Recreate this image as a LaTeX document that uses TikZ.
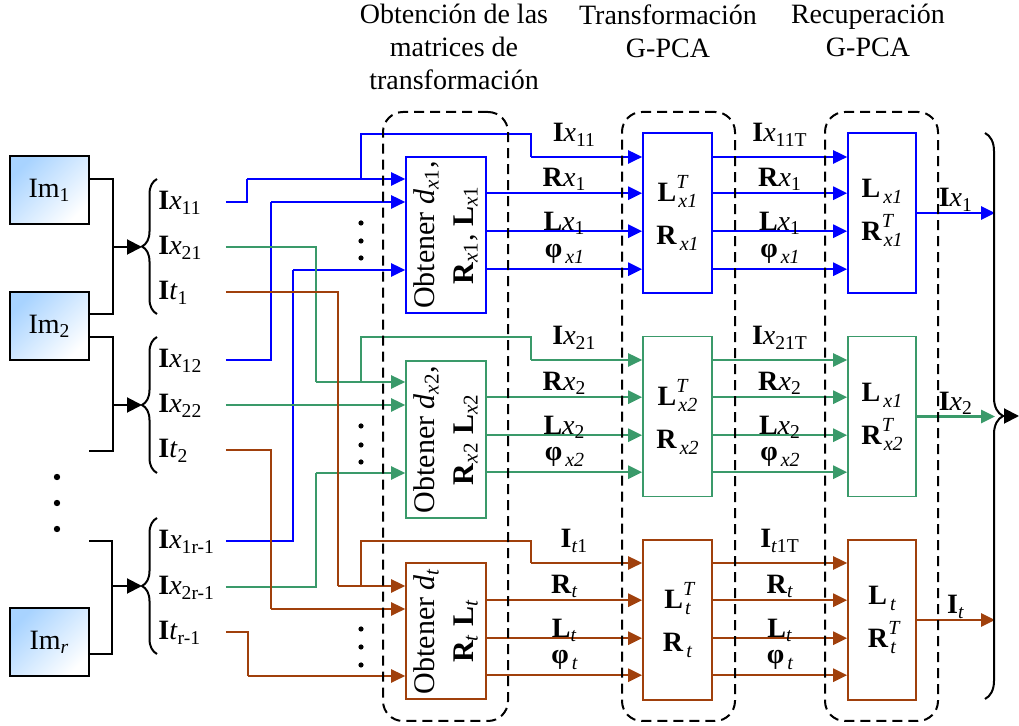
\documentclass[tikz,border=0pt]{standalone}
\usepackage{fontspec}
\setmainfont{Liberation Serif}
\usetikzlibrary{arrows.meta,calc,decorations.pathreplacing}
\definecolor{PcaBlue}{HTML}{0000FF}
\definecolor{PcaGreen}{HTML}{3A9A6A}
\definecolor{PcaBrown}{HTML}{A0400C}
\definecolor{PcaSky}{HTML}{A8D3FF}
\newcommand{\lsub}[1]{\textsubscript{#1}}
\newcommand{\scrsz}{\fontsize{10}{10}\selectfont}
\newcommand{\stk}[2]{\rlap{\raisebox{6.5pt}{\scrsz\itshape #1}}\kern1pt\raisebox{-3pt}{\scrsz\itshape #2}}
\newcommand{\lowsub}[1]{\kern1.5pt\raisebox{-3pt}{\scrsz\itshape #1}}
\tikzset{
  imbox/.style={draw,line width=1pt,top color=PcaSky,bottom color=white,shading angle=45,
    minimum width=39.5pt,minimum height=34pt,inner sep=0pt},
  obtbox/.style={draw,line width=0.8pt,fill=white,minimum width=40pt,inner sep=0pt,
    font=\fontsize{15}{19.5}\selectfont},
  gbox/.style={draw,line width=0.8pt,fill=white,minimum width=34.5pt,minimum height=80pt,
    inner sep=0pt,align=center},
  stage/.style={draw,line width=1pt,dash pattern=on 5pt off 3pt,rounded corners=10pt,
    minimum width=56.5pt,minimum height=304.5pt,inner sep=0pt},
  stagetitle/.style={anchor=north,align=center,inner sep=0pt},
  inlabel/.style={anchor=west,inner xsep=1pt,inner ysep=0pt,text width=32.5pt,align=left,
    text height=10pt,text depth=2pt},
  route/.style={line width=0.8pt},
  feed/.style={line width=1.3pt,-{Triangle[length=7pt,width=6.5pt]}},
  link/.style={line width=1pt},
  linkarr/.style={link,-{Triangle[length=7.5pt,width=7.5pt]}},
  curly/.style={decorate,line width=1pt,decoration={brace,amplitude=#1}},
  ilab/.style={anchor=base,inner sep=0pt,yshift=7.5pt},
  rlab/.style={anchor=base,inner sep=0pt,yshift=3.5pt},
  llab/.style={anchor=base,inner sep=0pt,yshift=0.5pt},
  plab/.style={anchor=base,inner sep=0pt,yshift=6pt},
  olab/.style={anchor=base,inner sep=0pt,yshift=3pt}
}
\begin{document}
\begin{tikzpicture}[x=0.5pt,y=-0.5pt,font=\fontsize{14}{16.5}\selectfont]
  \useasboundingbox (0,0) rectangle (1019,726);
  % stage titles
  \node[stagetitle] (tA) at (454,4) {Obtención de las\\matrices de\\transformación};
  \node[stagetitle] (tB) at (668,4) {Transformación\\G-PCA};
  \node[stagetitle] (tC) at (868,4) {Recuperación\\G-PCA};

  % input images
  \node[imbox] (imA) at (49.5,190.5) {Im\lsub{1}};
  \node[imbox] (imB) at (49.5,326.5) {Im\lsub{2}};
  \node[imbox] (imR) at (49.5,642.5) {Im\lsub{\itshape r}};
  \fill (57,477) circle[radius=1.6pt];
  \fill (57,503) circle[radius=1.6pt];
  \fill (57,529) circle[radius=1.6pt];

  \coordinate (armB) at (89,451);
  \coordinate (armR) at (89,541);
  \draw[link] ([yshift=5.75pt]imA.east) -- ++(23,0) coordinate (jA) |- ([yshift=6.25pt]imB.east);
  \draw[link] ([yshift=-5.25pt]imB.east) -- ++(23,0) coordinate (jB) |- (armB);
  \draw[link] (armR) -- ++(23,0) coordinate (jR) |- ([yshift=-5.75pt]imR.east);
  \coordinate (tipA) at (142,247);
  \coordinate (tipB) at (142,405);
  \coordinate (tipR) at (142,586);
  \draw[linkarr] (tipA -| jA) -- (tipA);
  \draw[linkarr] (tipB -| jB) -- (tipB);
  \draw[linkarr] (tipR -| jR) -- (tipR);
  \draw[curly=7.5pt] (157,314) -- (157,179);
  \draw[curly=7.5pt] (157,473) -- (157,337);
  \draw[curly=7.5pt] (157,654) -- (157,518);

  % split components
  \node[inlabel] (lx11) at (156,202) {\textbf{I}\textit{x}\lsub{11}};
  \node[inlabel] (lx21) at (156,247) {\textbf{I}\textit{x}\lsub{21}};
  \node[inlabel] (lt1)  at (156,292) {\textbf{I}\textit{t}\lsub{1}};
  \node[inlabel] (lx12) at (156,360) {\textbf{I}\textit{x}\lsub{12}};
  \node[inlabel] (lx22) at (156,405) {\textbf{I}\textit{x}\lsub{22}};
  \node[inlabel] (lt2)  at (156,450) {\textbf{I}\textit{t}\lsub{2}};
  \node[inlabel] (lx1r) at (156,541) {\textbf{I}\textit{x}\lsub{1r-1}};
  \node[inlabel] (lx2r) at (156,587) {\textbf{I}\textit{x}\lsub{2r-1}};
  \node[inlabel] (ltr)  at (156,632) {\textbf{I}\textit{t}\lsub{r-1}};

  % processing blocks
  \node[obtbox,draw=PcaBlue,minimum height=78pt] (oa) at (446,235)
    {\rotatebox{90}{\begin{tabular}{@{}c@{}}Obtener \textit{d}\lsub{\textit{x}1},\\
     \textbf{R}\lsub{\textit{x}1}, \textbf{L}\lsub{\textit{x}1}\end{tabular}}};
  \node[obtbox,draw=PcaGreen,minimum height=78.5pt] (ob) at (446,439.5)
    {\rotatebox{90}{\begin{tabular}{@{}c@{}}Obtener \textit{d}\lsub{\textit{x}2},\\
     \textbf{R}\lsub{\textit{x}2} \textbf{L}\lsub{\textit{x}2}\end{tabular}}};
  \node[obtbox,draw=PcaBrown,minimum height=68pt] (oc) at (446,631)
    {\rotatebox{90}{\begin{tabular}{@{}c@{}}Obtener \textit{d}\lsub{\textit{t}}\\
     \textbf{R}\lsub{\textit{t}} \textbf{L}\lsub{\textit{t}}\end{tabular}}};
  \node[gbox,draw=PcaBlue] (ta) at (677.5,213) {\textbf{L}\stk{T}{x1}\\[5pt]\textbf{R}\lowsub{x1}};
  \node[gbox,draw=PcaGreen] (tb) at (677.5,416.5) {\textbf{L}\stk{T}{x2}\\[5pt]\textbf{R}\lowsub{x2}};
  \node[gbox,draw=PcaBrown] (tc) at (677.5,620) {\textbf{L}\stk{T}{t}\\[5pt]\textbf{R}\lowsub{t}};
  \node[gbox,draw=PcaBlue,minimum width=34pt] (ra) at (882,213) {\textbf{L}\lowsub{x1}\\[5pt]\textbf{R}\stk{T}{x1}};
  \node[gbox,draw=PcaGreen,minimum width=34pt] (rb) at (882,416.5) {\textbf{L}\lowsub{x1}\\[5pt]\textbf{R}\stk{T}{x2}};
  \node[gbox,draw=PcaBrown,minimum width=34pt] (rc) at (882,620) {\textbf{L}\lowsub{t}\\[5pt]\textbf{R}\stk{T}{t}};

  \fill (361,223) circle[radius=1.3pt]; \fill (361,241) circle[radius=1.3pt]; \fill (361,258) circle[radius=1.3pt];
  \fill (361,426) circle[radius=1.3pt]; \fill (361,445) circle[radius=1.3pt]; \fill (361,462) circle[radius=1.3pt];
  \fill (361,629) circle[radius=1.3pt]; \fill (361,647) circle[radius=1.3pt]; \fill (361,665) circle[radius=1.3pt];

  \coordinate (brR) at (995,416);
  \coordinate (brTip) at (1003,416);
  \coordinate (outEnd) at (1019,416);

  % row 1
  \coordinate (ka1) at (247,179); \coordinate (ka2) at (271,202); \coordinate (ka3) at (293,270);
  \coordinate (ja) at (361,179); \coordinate (ta0) at (531,157);
  \coordinate (oa1) at ($(oa.north east)+(0,37)$);
  \coordinate (oa2) at ($(oa.north east)+(0,75)$);
  \coordinate (oa3) at ($(oa.north east)+(0,113)$);
  \draw[route,draw=PcaBlue] (lx11.east) -| (ka1);
  \draw[route,draw=PcaBlue] (lx12.east) -| (ka2);
  \draw[route,draw=PcaBlue] (lx1r.east) -| (ka3);
  \draw[feed,draw=PcaBlue] (ka1) -- (ka1 -| oa.west);
  \draw[feed,draw=PcaBlue] (ka2) -- (ka2 -| oa.west);
  \draw[feed,draw=PcaBlue] (ka3) -- (ka3 -| oa.west);
  \draw[route,draw=PcaBlue] (ja) |- (531,134) -- (ta0);
  \draw[feed,draw=PcaBlue] (ta0) -- (ta0 -| ta.west) node[pos=.39,ilab] {\textbf{I}\textit{x}\lsub{11}};
  \draw[feed,draw=PcaBlue] (oa1) -- (oa1 -| ta.west) node[midway,rlab] {\textbf{R}\textit{x}\lsub{1}};
  \draw[feed,draw=PcaBlue] (oa2) -- (oa2 -| ta.west) node[midway,llab] {\textbf{L}\textit{x}\lsub{1}};
  \draw[feed,draw=PcaBlue] (oa3) -- (oa3 -| ta.west) node[midway,plab] {\textbf{φ}\lowsub{x1}};
  \draw[feed,draw=PcaBlue] (ta0 -| ta.east) -- (ta0 -| ra.west) node[midway,ilab] {\textbf{I}\textit{x}\lsub{11T}};
  \draw[feed,draw=PcaBlue] (oa1 -| ta.east) -- (oa1 -| ra.west) node[midway,rlab] {\textbf{R}\textit{x}\lsub{1}};
  \draw[feed,draw=PcaBlue] (oa2 -| ta.east) -- (oa2 -| ra.west) node[midway,llab] {\textbf{L}\textit{x}\lsub{1}};
  \draw[feed,draw=PcaBlue] (oa3 -| ta.east) -- (oa3 -| ra.west) node[midway,plab] {\textbf{φ}\lowsub{x1}};
  \draw[feed,draw=PcaBlue] (ra.east) -- (ra.east -| brR) node[midway,olab] {\textbf{I}\textit{x}\lsub{1}};

  % row 2
  \coordinate (kb1) at (316,382); \coordinate (kb2) at (316,405); \coordinate (kb3) at (316,473);
  \coordinate (jb) at (361,382); \coordinate (tb0) at (531,360);
  \coordinate (ob1) at ($(ob.north east)+(0,37)$);
  \coordinate (ob2) at ($(ob.north east)+(0,75)$);
  \coordinate (ob3) at ($(ob.north east)+(0,112)$);
  \draw[route,draw=PcaGreen] (lx21.east) -| (kb1);
  \draw[route,draw=PcaGreen] (lx22.east) -- (kb2);
  \draw[route,draw=PcaGreen] (lx2r.east) -| (kb3);
  \draw[feed,draw=PcaGreen] (kb1) -- (kb1 -| ob.west);
  \draw[feed,draw=PcaGreen] (kb2) -- (kb2 -| ob.west);
  \draw[feed,draw=PcaGreen] (kb3) -- (kb3 -| ob.west);
  \draw[route,draw=PcaGreen] (jb) |- (531,337) -- (tb0);
  \draw[feed,draw=PcaGreen] (tb0) -- (tb0 -| tb.west) node[pos=.39,ilab] {\textbf{I}\textit{x}\lsub{21}};
  \draw[feed,draw=PcaGreen] (ob1) -- (ob1 -| tb.west) node[midway,rlab] {\textbf{R}\textit{x}\lsub{2}};
  \draw[feed,draw=PcaGreen] (ob2) -- (ob2 -| tb.west) node[midway,llab] {\textbf{L}\textit{x}\lsub{2}};
  \draw[feed,draw=PcaGreen] (ob3) -- (ob3 -| tb.west) node[midway,plab] {\textbf{φ}\lowsub{x2}};
  \draw[feed,draw=PcaGreen] (tb0 -| tb.east) -- (tb0 -| rb.west) node[midway,ilab] {\textbf{I}\textit{x}\lsub{21T}};
  \draw[feed,draw=PcaGreen] (ob1 -| tb.east) -- (ob1 -| rb.west) node[midway,rlab] {\textbf{R}\textit{x}\lsub{2}};
  \draw[feed,draw=PcaGreen] (ob2 -| tb.east) -- (ob2 -| rb.west) node[midway,llab] {\textbf{L}\textit{x}\lsub{2}};
  \draw[feed,draw=PcaGreen] (ob3 -| tb.east) -- (ob3 -| rb.west) node[midway,plab] {\textbf{φ}\lowsub{x2}};
  \draw[feed,draw=PcaGreen] (rb.east) -- (rb.east -| brR) node[midway,olab] {\textbf{I}\textit{x}\lsub{2}};

  % row 3
  \coordinate (kc1) at (338,586); \coordinate (kc2) at (271,609); \coordinate (kc3) at (248,676);
  \coordinate (jc) at (361,586); \coordinate (tc0) at (531,563);
  \coordinate (oc1) at ($(oc.north east)+(0,38)$);
  \coordinate (oc2) at ($(oc.north east)+(0,76)$);
  \coordinate (oc3) at ($(oc.north east)+(0,113)$);
  \draw[route,draw=PcaBrown] (lt1.east) -| (kc1);
  \draw[route,draw=PcaBrown] (lt2.east) -| (kc2);
  \draw[route,draw=PcaBrown] (ltr.east) -| (kc3);
  \draw[feed,draw=PcaBrown] (kc1) -- (kc1 -| oc.west);
  \draw[feed,draw=PcaBrown] (kc2) -- (kc2 -| oc.west);
  \draw[feed,draw=PcaBrown] (kc3) -- (kc3 -| oc.west);
  \draw[route,draw=PcaBrown] (jc) |- (531,541) -- (tc0);
  \draw[feed,draw=PcaBrown] (tc0) -- (tc0 -| tc.west) node[pos=.39,ilab] {\textbf{I}\lsub{\textit{t}1}};
  \draw[feed,draw=PcaBrown] (oc1) -- (oc1 -| tc.west) node[midway,rlab] {\textbf{R}\lsub{\itshape t}};
  \draw[feed,draw=PcaBrown] (oc2) -- (oc2 -| tc.west) node[midway,llab] {\textbf{L}\lsub{\itshape t}};
  \draw[feed,draw=PcaBrown] (oc3) -- (oc3 -| tc.west) node[midway,plab] {\textbf{φ}\lowsub{t}};
  \draw[feed,draw=PcaBrown] (tc0 -| tc.east) -- (tc0 -| rc.west) node[midway,ilab] {\textbf{I}\lsub{\textit{t}1T}};
  \draw[feed,draw=PcaBrown] (oc1 -| tc.east) -- (oc1 -| rc.west) node[midway,rlab] {\textbf{R}\lsub{\itshape t}};
  \draw[feed,draw=PcaBrown] (oc2 -| tc.east) -- (oc2 -| rc.west) node[midway,llab] {\textbf{L}\lsub{\itshape t}};
  \draw[feed,draw=PcaBrown] (oc3 -| tc.east) -- (oc3 -| rc.west) node[midway,plab] {\textbf{φ}\lowsub{t}};
  \draw[feed,draw=PcaBrown] (rc.east) -- (rc.east -| brR) node[midway,olab] {\textbf{I}\lsub{\itshape t}};

  % merge of the recovered images
  \draw[curly=9pt] (985,133) -- (985,699);
  \draw[linkarr] (brTip) -- (outEnd);

  % stage frames
  \node[stage,minimum width=62.5pt] (stA) at (445.5,416.5) {};
  \node[stage] (stB) at (678.5,416.5) {};
  \node[stage] (stC) at (881.5,416.5) {};
\end{tikzpicture}
\end{document}
